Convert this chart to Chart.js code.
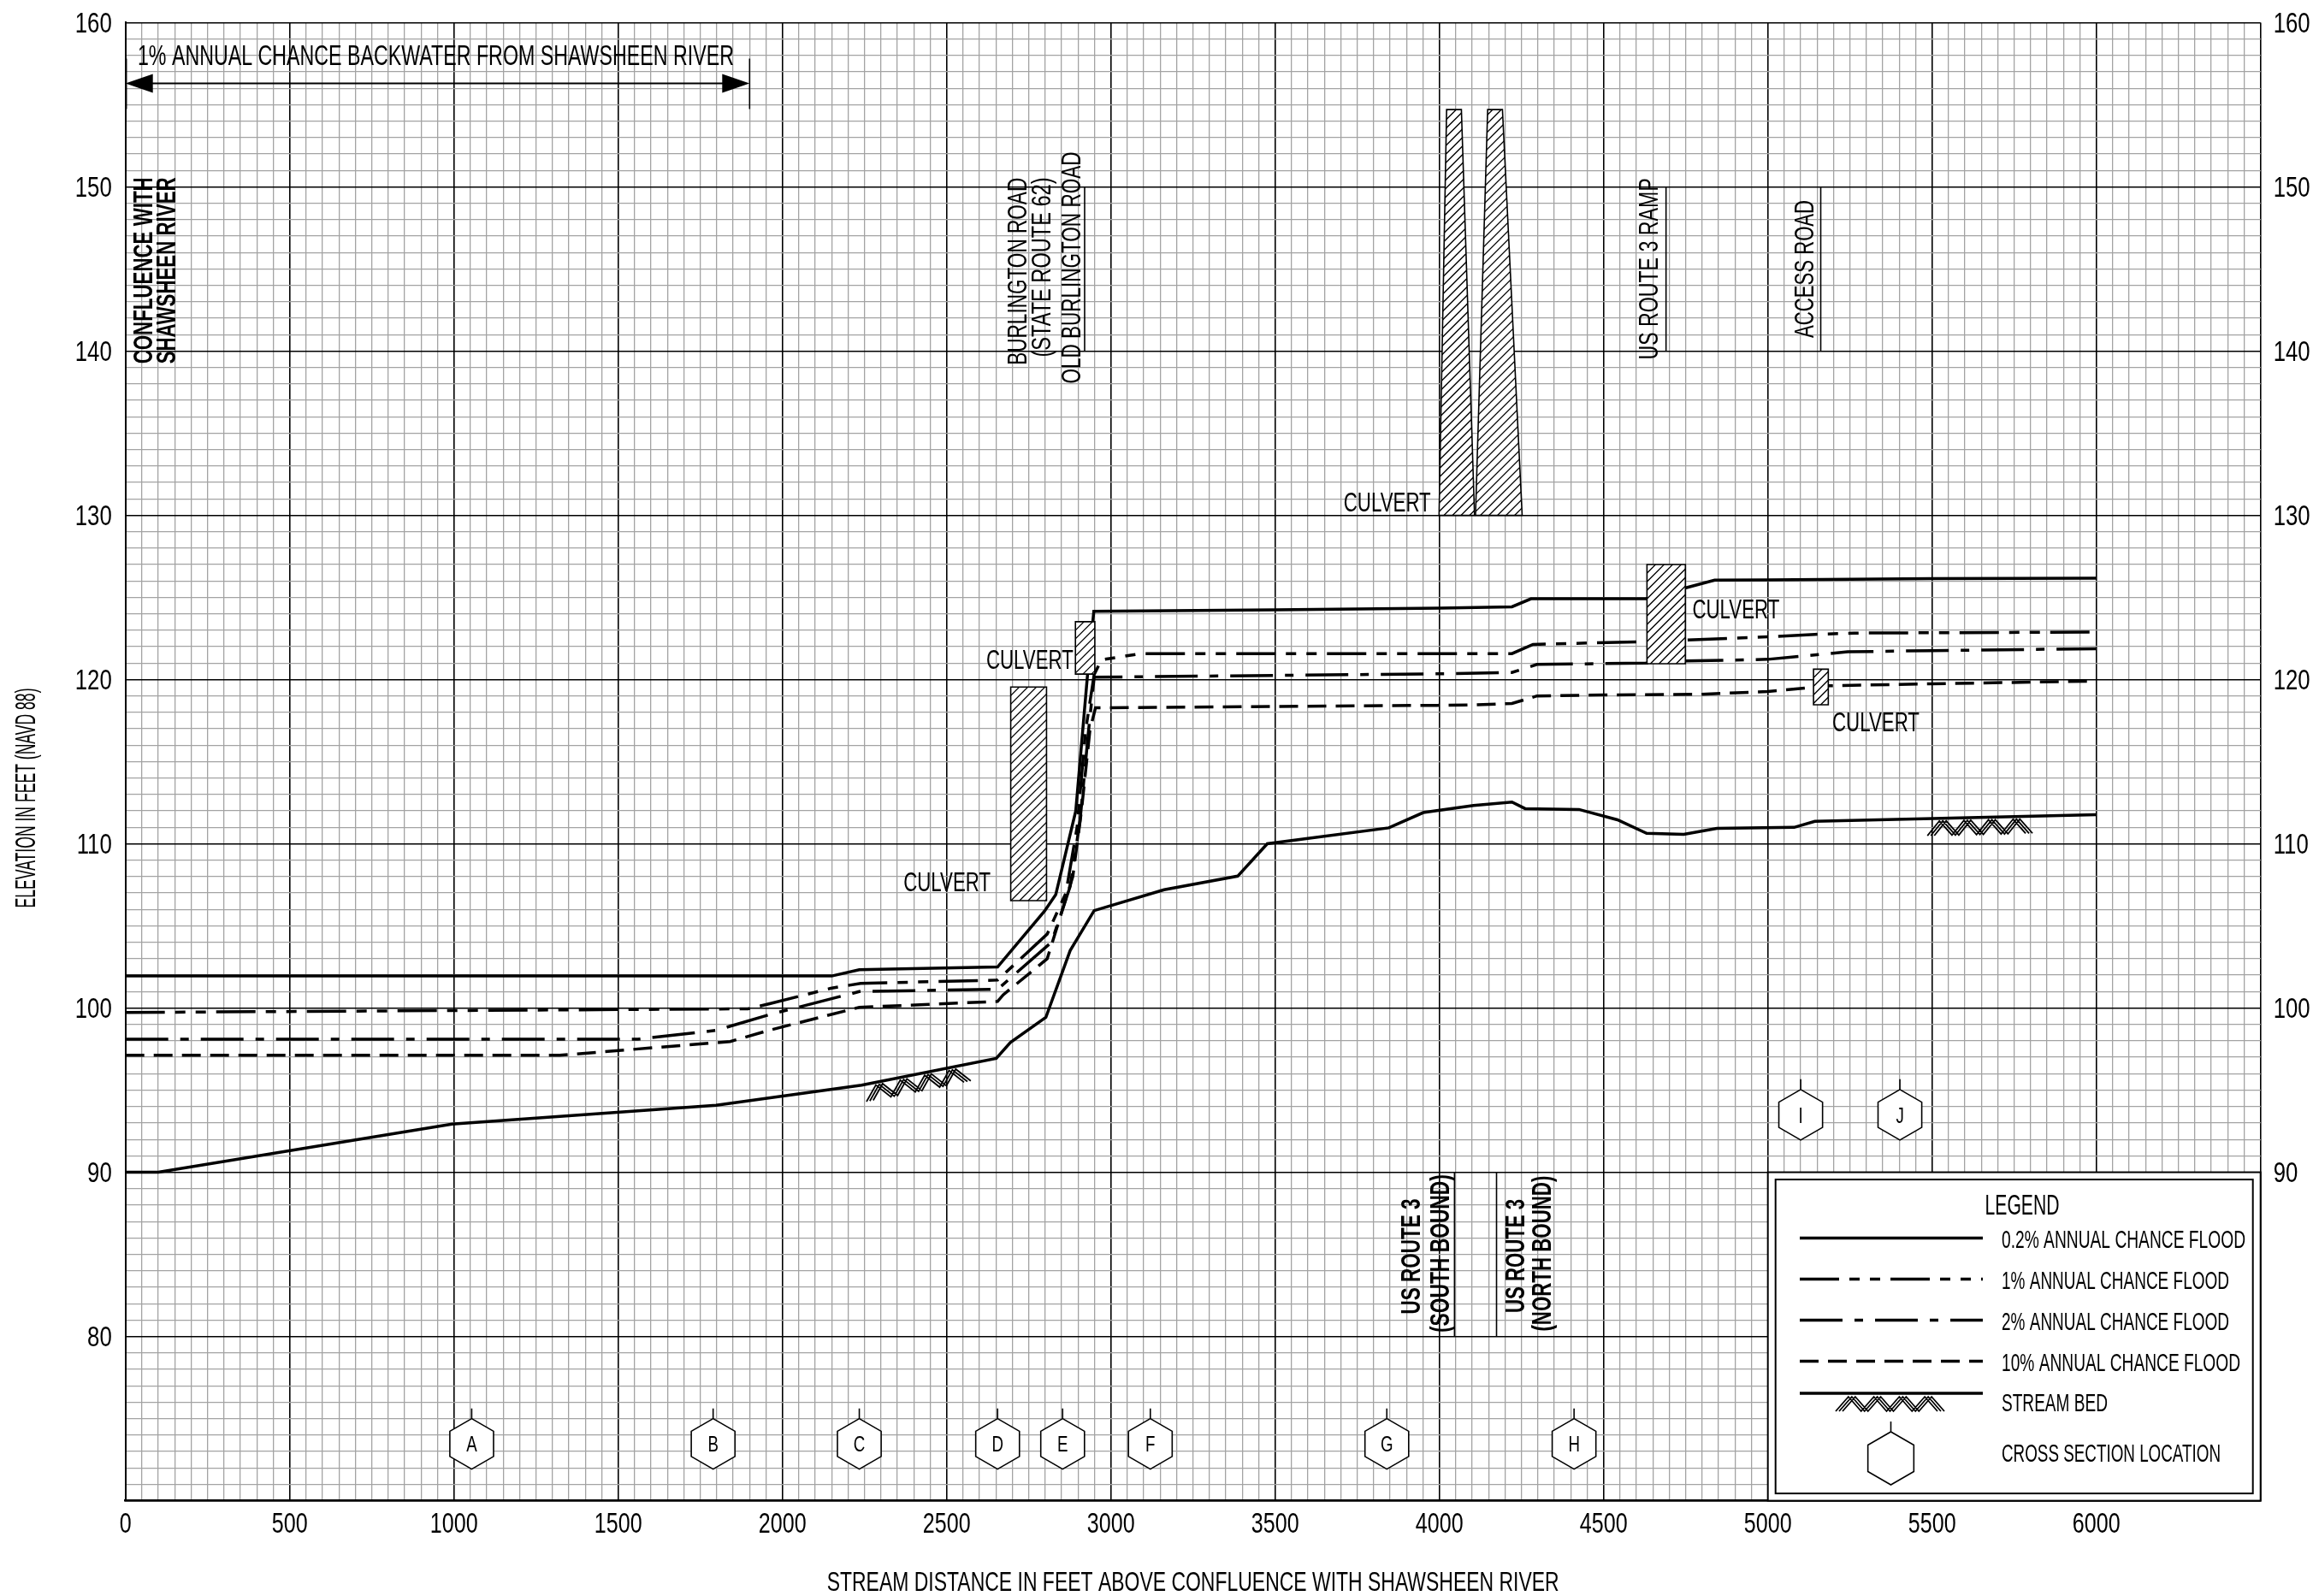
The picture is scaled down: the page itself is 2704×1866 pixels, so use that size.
<!DOCTYPE html>
<html>
<head>
<meta charset="utf-8">
<script src="https://cdn.jsdelivr.net/npm/chart.js@4.4.1/dist/chart.umd.min.js"></script>
<style>
  html, body { margin: 0; padding: 0; background: #fff; }
  canvas { display: block; }
</style>
</head>
<body>
<canvas id="profile" width="2704" height="1866"></canvas>
<script>
// stream distance (feet above confluence) and elevation (feet NAVD 88) for each profile
const dist02 = [0, 2150, 2234, 2655, 2798, 2832, 2893, 2928, 2948, 3500, 4000, 4221, 4279, 4629, 4748, 4838, 5000, 5500, 6000];
const elev02 = [101.95, 101.95, 102.33, 102.5, 105.9, 106.9, 112.0, 120.1, 124.15, 124.25, 124.35, 124.43, 124.92, 124.92, 125.57, 126.05, 126.07, 126.14, 126.17];

const dist1 = [0, 1895, 1961, 2147, 2238, 2655, 2806, 2863, 2897, 2923, 2949, 2971, 3093, 4221, 4285, 4628, 4748, 5000, 5143, 5263, 6000];
const elev1 = [99.73, 99.95, 100.26, 101.2, 101.5, 101.7, 104.5, 107.0, 111.0, 116.9, 120.3, 121.2, 121.58, 121.58, 122.14, 122.31, 122.4, 122.6, 122.75, 122.83, 122.89];

const dist2 = [0, 1560, 1798, 1961, 2234, 2655, 2819, 2876, 2906, 2932, 2949, 3994, 4221, 4297, 4628, 4748, 5000, 5243, 5500, 6000];
const elev2 = [98.1, 98.1, 98.64, 99.6, 101.0, 101.14, 104.0, 107.4, 111.4, 116.9, 120.14, 120.35, 120.43, 120.92, 121.0, 121.13, 121.23, 121.69, 121.76, 121.88];

const dist10 = [0, 1322, 1841, 1961, 2234, 2655, 2672, 2806, 2828, 2884, 2910, 2936, 2953, 3994, 4105, 4221, 4297, 4500, 4793, 5000, 5138, 5188, 5500, 6000];
const elev10 = [97.12, 97.12, 97.96, 98.65, 100.04, 100.4, 100.8, 103.0, 104.4, 108.0, 111.95, 116.9, 118.28, 118.43, 118.45, 118.54, 119.0, 119.06, 119.1, 119.27, 119.53, 119.62, 119.74, 119.91];

const distBed = [0, 100, 994, 1798, 2241, 2651, 2694, 2802, 2876, 2949, 3162, 3386, 3476, 3846, 3951, 4104, 4221, 4261, 4425, 4542, 4631, 4744, 4845, 5080, 5143, 6000];
const elevBed = [90.0, 90.0, 92.93, 94.08, 95.3, 96.93, 97.9, 99.43, 103.5, 105.93, 107.2, 108.03, 110.0, 110.97, 111.9, 112.33, 112.54, 112.14, 112.09, 111.46, 110.64, 110.57, 110.94, 111.0, 111.37, 111.77];

// cross sections
const xsLetters = ['A', 'B', 'C', 'D', 'E', 'F', 'G', 'H', 'I', 'J'];
const xsDist = [1054, 1789, 2234, 2655, 2853, 3120, 3840, 4410, 5100, 5402];
const xsElev = [73.46, 73.46, 73.46, 73.46, 73.46, 73.46, 73.46, 73.46, 93.5, 93.5];

// culverts (rectangles)
const culvertFrom = [2695, 2892, 4632, 5139];
const culvertTo = [2804, 2951, 4749, 5184];
const culvertLow = [106.54, 120.33, 120.96, 118.46];
const culvertHigh = [119.54, 123.52, 127.0, 120.63];

// tapered culverts under US Route 3
const taperBaseFrom = [3999, 4110];
const taperBaseTo = [4107, 4252];
const taperTopFrom = [4022, 4147];
const taperTopTo = [4067, 4192];
const taperLow = [130, 130];
const taperHigh = [154.7, 154.7];

// stream bed symbol spans
const bedMarkFrom = [2256, 5495];
const bedMarkTo = [2553, 5794];

// tick labels
const xTickLabels = [0, 500, 1000, 1500, 2000, 2500, 3000, 3500, 4000, 4500, 5000, 5500, 6000];
const yTickLabelsLeft = [160, 150, 140, 130, 120, 110, 100, 90, 80];
const yTickLabelsRight = [160, 150, 140, 130, 120, 110, 100, 90];

const FONT = '"Liberation Sans", Arial, sans-serif';

function pts(xs, ys) {
    return xs.map((v, i) => ({x: v, y: ys[i]}));
}

function label(ctx, s, px, py, o) {
    ctx.save();
    ctx.font = (o.bold ? 'bold ' : '') + o.size + 'px ' + FONT;
    const w = ctx.measureText(s).width;
    const sx = o.w ? o.w / w : (o.sx || 0.8);
    ctx.translate(px, py);
    if (o.rot) ctx.rotate(o.rot);
    ctx.scale(sx, 1);
    ctx.textAlign = o.align || 'center';
    ctx.textBaseline = 'alphabetic';
    ctx.fillStyle = '#000';
    ctx.fillText(s, 0, o.size * 0.716 / 2);
    ctx.restore();
}

function polyPath(ctx, poly) {
    ctx.beginPath();
    poly.forEach((p, i) => i ? ctx.lineTo(p[0], p[1]) : ctx.moveTo(p[0], p[1]));
    ctx.closePath();
}

function hatchPoly(ctx, poly) {
    ctx.save();
    polyPath(ctx, poly);
    ctx.fillStyle = '#fff';
    ctx.fill();
    ctx.save();
    ctx.clip();
    const xs = poly.map(p => p[0]), ys = poly.map(p => p[1]);
    const x0 = Math.min(...xs), x1 = Math.max(...xs), y0 = Math.min(...ys), y1 = Math.max(...ys);
    ctx.beginPath();
    for (let k = x0 - (y1 - y0); k < x1 + 10; k += 10) {
        ctx.moveTo(k, y1);
        ctx.lineTo(k + (y1 - y0), y0);
    }
    ctx.lineWidth = 1.3;
    ctx.strokeStyle = '#000';
    ctx.stroke();
    ctx.restore();
    polyPath(ctx, poly);
    ctx.lineWidth = 1.6;
    ctx.strokeStyle = '#000';
    ctx.stroke();
    ctx.restore();
}

function hexagon(ctx, cx, cy, r, stem) {
    ctx.beginPath();
    for (let i = 0; i < 6; i++) {
        const a = -Math.PI / 2 + i * Math.PI / 3;
        const px = cx + r * Math.cos(a), py = cy + r * Math.sin(a);
        i ? ctx.lineTo(px, py) : ctx.moveTo(px, py);
    }
    ctx.closePath();
    ctx.moveTo(cx, cy - r);
    ctx.lineTo(cx, cy - r - stem);
    ctx.lineWidth = 1.6;
    ctx.strokeStyle = '#000';
    ctx.stroke();
}

function chevrons(ctx, x1, y1, x2, y2, n, h) {
    const ang = Math.atan2(y2 - y1, x2 - x1);
    const len = Math.hypot(x2 - x1, y2 - y1);
    const w = len / n;
    ctx.save();
    ctx.translate(x1, y1);
    ctx.rotate(ang);
    ctx.beginPath();
    [-4, 0, 4].forEach(o => {
        for (let i = 0; i <= 2 * n; i++) {
            const px = i * w / 2 + o;
            const py = i % 2 === 0 ? h : 3;
            i ? ctx.lineTo(px, py) : ctx.moveTo(px, py);
        }
    });
    ctx.lineWidth = 1.8;
    ctx.strokeStyle = '#000';
    ctx.stroke();
    ctx.restore();
}

function bedAt(d) {
    for (let i = 1; i < distBed.length; i++) {
        if (d <= distBed[i]) {
            const t = (d - distBed[i - 1]) / (distBed[i] - distBed[i - 1]);
            return elevBed[i - 1] + t * (elevBed[i] - elevBed[i - 1]);
        }
    }
    return elevBed[elevBed.length - 1];
}

const dash1 = [46, 12, 12, 12, 12, 12];
const dash2 = [50, 14, 10, 14];
const dash10 = [22, 11];

const overlay = {
    id: 'overlay',
    beforeDraw(chart) {
        const ctx = chart.ctx;
        ctx.save();
        ctx.fillStyle = '#fff';
        ctx.fillRect(0, 0, chart.width, chart.height);
        ctx.restore();
    },
    afterDatasetsDraw(chart) {
        const {ctx, chartArea: a, scales: {x, y}} = chart;
        const X = v => x.getPixelForValue(v);
        const Y = v => y.getPixelForValue(v);

        // culverts
        for (let i = 0; i < culvertFrom.length; i++) {
            hatchPoly(ctx, [[X(culvertFrom[i]), Y(culvertLow[i])], [X(culvertTo[i]), Y(culvertLow[i])],
                [X(culvertTo[i]), Y(culvertHigh[i])], [X(culvertFrom[i]), Y(culvertHigh[i])]]);
        }
        for (let i = 0; i < taperBaseFrom.length; i++) {
            hatchPoly(ctx, [[X(taperBaseFrom[i]), Y(taperLow[i])], [X(taperBaseTo[i]), Y(taperLow[i])],
                [X(taperTopTo[i]), Y(taperHigh[i])], [X(taperTopFrom[i]), Y(taperHigh[i])]]);
        }

        // stream bed symbols
        for (let i = 0; i < bedMarkFrom.length; i++) {
            chevrons(ctx, X(bedMarkFrom[i]), Y(bedAt(bedMarkFrom[i])), X(bedMarkTo[i]), Y(bedAt(bedMarkTo[i])), 4, 20);
        }

        // culvert labels
        label(ctx, 'CULVERT', X(2634), Y(107.7), {size: 32, w: 102, align: 'right'});
        label(ctx, 'CULVERT', X(2886), Y(121.25), {size: 32, w: 102, align: 'right'});
        label(ctx, 'CULVERT', X(3974), Y(130.83), {size: 32, w: 102, align: 'right'});
        label(ctx, 'CULVERT', X(4770), Y(124.31), {size: 32, w: 102, align: 'left'});
        label(ctx, 'CULVERT', X(5196), Y(117.47), {size: 32, w: 102, align: 'left'});

        // road lines
        ctx.save();
        ctx.strokeStyle = '#000';
        ctx.lineWidth = 1.6;
        ctx.beginPath();
        [2920, 4690, 5161].forEach(d => { ctx.moveTo(X(d), Y(140)); ctx.lineTo(X(d), Y(150)); });
        [4046, 4174].forEach(d => { ctx.moveTo(X(d), Y(80)); ctx.lineTo(X(d), Y(90)); });
        ctx.stroke();
        ctx.restore();

        // road labels
        const up = -Math.PI / 2;
        label(ctx, 'CONFLUENCE WITH', X(52), Y(144.9), {size: 31, w: 218, rot: up, bold: true});
        label(ctx, 'SHAWSHEEN RIVER', X(123), Y(144.9), {size: 31, w: 218, rot: up, bold: true});
        label(ctx, 'BURLINGTON ROAD', X(2712), Y(144.85), {size: 32, w: 219, rot: up});
        label(ctx, '(STATE ROUTE 62)', X(2787), Y(145.1), {size: 32, w: 210, rot: up});
        label(ctx, 'OLD BURLINGTON ROAD', X(2878), Y(145.07), {size: 32, w: 271, rot: up});
        label(ctx, 'US ROUTE 3 RAMP', X(4636), Y(145), {size: 32, w: 212, rot: up});
        label(ctx, 'ACCESS ROAD', X(5110), Y(145), {size: 32, w: 161, rot: up});
        label(ctx, 'US ROUTE 3', X(3912), Y(84.87), {size: 31, w: 135, rot: up, bold: true});
        label(ctx, '(SOUTH BOUND)', X(4001), Y(85.05), {size: 31, w: 185, rot: up, bold: true});
        label(ctx, 'US ROUTE 3', X(4230), Y(84.9), {size: 31, w: 133, rot: up, bold: true});
        label(ctx, '(NORTH BOUND)', X(4311), Y(85.05), {size: 31, w: 182, rot: up, bold: true});

        // backwater arrow
        ctx.save();
        ctx.strokeStyle = '#000';
        ctx.fillStyle = '#000';
        const ay = Y(156.3), ax0 = X(0), ax1 = X(1900);
        ctx.lineWidth = 2;
        ctx.beginPath();
        ctx.moveTo(ax0 + 20, ay); ctx.lineTo(ax1 - 20, ay);
        ctx.stroke();
        ctx.lineWidth = 1.5;
        ctx.beginPath();
        ctx.moveTo(ax0 + 1, ay - 29); ctx.lineTo(ax0 + 1, ay + 30);
        ctx.moveTo(ax1, ay - 29); ctx.lineTo(ax1, ay + 30);
        ctx.stroke();
        ctx.beginPath();
        ctx.moveTo(ax0, ay); ctx.lineTo(ax0 + 32, ay - 11); ctx.lineTo(ax0 + 32, ay + 11); ctx.closePath();
        ctx.moveTo(ax1, ay); ctx.lineTo(ax1 - 32, ay - 11); ctx.lineTo(ax1 - 32, ay + 11); ctx.closePath();
        ctx.fill();
        ctx.restore();
        label(ctx, '1% ANNUAL CHANCE BACKWATER FROM SHAWSHEEN RIVER', X(37), Y(158.04), {size: 33, w: 697, align: 'left'});

        // cross section hexagons
        for (let i = 0; i < xsLetters.length; i++) {
            const cx = X(xsDist[i]), cy = Y(xsElev[i]);
            ctx.save();
            ctx.fillStyle = '#fff';
            ctx.beginPath();
            for (let k = 0; k < 6; k++) {
                const an = -Math.PI / 2 + k * Math.PI / 3;
                ctx.lineTo(cx + 29.5 * Math.cos(an), cy + 29.5 * Math.sin(an));
            }
            ctx.closePath();
            ctx.fill();
            ctx.restore();
            hexagon(ctx, cx, cy, 29.5, 12);
            label(ctx, xsLetters[i], cx, cy, {size: 26, sx: 0.72});
        }

        // tick labels
        xTickLabels.forEach(v => label(ctx, String(v), X(v), 1780, {size: 33, sx: 0.76}));
        yTickLabelsLeft.forEach(v => label(ctx, String(v), a.left - 16, Y(v), {size: 33, sx: 0.78, align: 'right'}));
        yTickLabelsRight.forEach(v => label(ctx, String(v), a.right + 15, Y(v), {size: 33, sx: 0.78, align: 'left'}));

        // axis titles
        label(ctx, 'STREAM DISTANCE IN FEET ABOVE CONFLUENCE WITH SHAWSHEEN RIVER', (a.left + a.right) / 2, 1849, {size: 31, w: 856});
        label(ctx, 'ELEVATION IN FEET (NAVD 88)', 29, 933, {size: 33, w: 257, rot: up});

        // legend
        const lx0 = X(5000), ly0 = Y(90), lx1 = a.right, ly1 = a.bottom;
        ctx.save();
        ctx.fillStyle = '#fff';
        ctx.fillRect(lx0, ly0, lx1 - lx0, ly1 - ly0);
        ctx.strokeStyle = '#000';
        ctx.lineWidth = 2;
        ctx.strokeRect(lx0, ly0, lx1 - lx0, ly1 - ly0);
        ctx.strokeRect(lx0 + 9, ly0 + 8.5, lx1 - lx0 - 18, ly1 - ly0 - 17);
        ctx.restore();

        label(ctx, 'LEGEND', 2364, 1408, {size: 33, w: 87});
        const rows = [
            ['0.2% ANNUAL CHANCE FLOOD', [], 1447.5, 285],
            ['1% ANNUAL CHANCE FLOOD', dash1, 1495.5, 266],
            ['2% ANNUAL CHANCE FLOOD', dash2, 1543.5, 266],
            ['10% ANNUAL CHANCE FLOOD', dash10, 1591.5, 279]
        ];
        rows.forEach(r => {
            ctx.save();
            ctx.strokeStyle = '#000';
            ctx.lineWidth = 3.5;
            ctx.setLineDash(r[1]);
            ctx.beginPath();
            ctx.moveTo(2104, r[2]);
            ctx.lineTo(2318, r[2]);
            ctx.stroke();
            ctx.restore();
            label(ctx, r[0], 2340, r[2] + 1, {size: 30, w: r[3], align: 'left'});
        });
        ctx.save();
        ctx.strokeStyle = '#000';
        ctx.lineWidth = 3.5;
        ctx.beginPath();
        ctx.moveTo(2104, 1629);
        ctx.lineTo(2318, 1629);
        ctx.stroke();
        ctx.restore();
        chevrons(ctx, 2150, 1630, 2269, 1630, 4, 20);
        label(ctx, 'STREAM BED', 2340, 1639.5, {size: 30, w: 124, align: 'left'});
        hexagon(ctx, 2210.5, 1705, 31, 12);
        label(ctx, 'CROSS SECTION LOCATION', 2340, 1698.5, {size: 30, w: 256, align: 'left'});
    }
};

function lineSet(name, xs, ys, dash) {
    return {
        label: name,
        data: pts(xs, ys),
        borderColor: '#000',
        borderWidth: 3.5,
        borderDash: dash,
        borderCapStyle: 'butt',
        pointRadius: 0,
        tension: 0,
        fill: false
    };
}

const isMajor = (v, step) => Math.abs(v / step - Math.round(v / step)) < 1e-6;

new Chart(document.getElementById('profile'), {
    type: 'line',
    data: {
        datasets: [
            lineSet('0.2% ANNUAL CHANCE FLOOD', dist02, elev02, []),
            lineSet('1% ANNUAL CHANCE FLOOD', dist1, elev1, dash1),
            lineSet('2% ANNUAL CHANCE FLOOD', dist2, elev2, dash2),
            lineSet('10% ANNUAL CHANCE FLOOD', dist10, elev10, dash10),
            lineSet('STREAM BED', distBed, elevBed, [])
        ]
    },
    options: {
        responsive: false,
        devicePixelRatio: 1,
        animation: false,
        layout: {padding: {left: 146.7, right: 61.3, top: 26.4, bottom: 111.4}},
        plugins: {legend: {display: false}, tooltip: {enabled: false}},
        scales: {
            x: {
                type: 'linear',
                min: 0,
                max: 6500,
                ticks: {display: false, stepSize: 50},
                grid: {
                    drawTicks: false,
                    color: c => isMajor(c.tick.value, 500) ? '#000' : '#a3a3a3',
                    lineWidth: c => isMajor(c.tick.value, 500) ? 1.6 : 1.3
                },
                border: {display: true, color: '#000', width: 2.5}
            },
            y: {
                type: 'linear',
                min: 70,
                max: 160,
                ticks: {display: false, stepSize: 1},
                grid: {
                    drawTicks: false,
                    color: c => isMajor(c.tick.value, 10) ? '#000' : '#a3a3a3',
                    lineWidth: c => isMajor(c.tick.value, 10) ? 1.6 : 1.3
                },
                border: {display: true, color: '#000', width: 2}
            }
        }
    },
    plugins: [overlay]
});
</script>
</body>
</html>
